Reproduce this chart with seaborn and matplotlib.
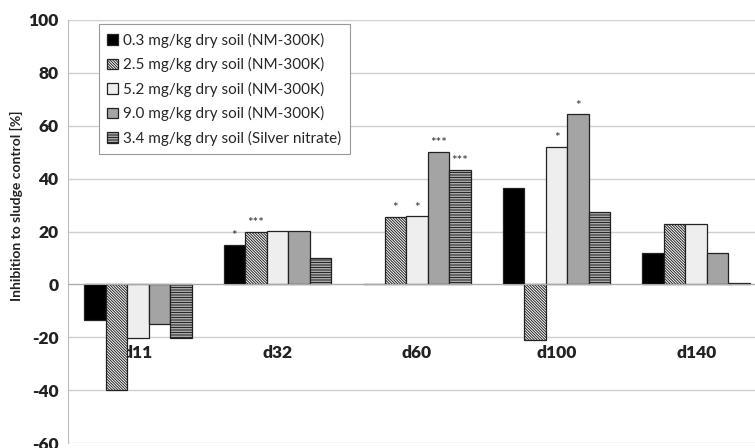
import matplotlib
matplotlib.use("Agg")
import matplotlib.pyplot as plt
import seaborn as sns
import pandas as pd

sns.set_style("white")
plt.rcParams['font.family'] = ['Lato', 'DejaVu Sans']
plt.rcParams['hatch.linewidth'] = 0.7
plt.rcParams['axes.unicode_minus'] = False

# data
days = ['d11', 'd32', 'd60', 'd100', 'd140']
series = ['0.3 mg/kg dry soil (NM-300K)',
          '2.5 mg/kg dry soil (NM-300K)',
          '5.2 mg/kg dry soil (NM-300K)',
          '9.0 mg/kg dry soil (NM-300K)',
          '3.4 mg/kg dry soil (Silver nitrate)']
v03 = [-13.3, 15.0, 0.0, 36.3, 11.8]
v25 = [-39.8, 19.9, 25.5, -20.9, 22.7]
v52 = [-20.1, 20.3, 25.7, 51.9, 22.7]
v90 = [-14.9, 20.3, 50.0, 64.3, 11.8]
vag = [-20.1, 10.1, 43.4, 27.2, 0.5]
stars = [
    ['', '*', '', '', ''],
    ['', '***', '*', '', ''],
    ['', '', '*', '*', ''],
    ['', '', '***', '*', ''],
    ['', '', '***', '', ''],
]

rows = []
for s, vals in zip(series, [v03, v25, v52, v90, vag]):
    for d, v in zip(days, vals):
        rows.append({'day': d, 'dose': s, 'value': v})
df = pd.DataFrame(rows)

fig = plt.figure(figsize=(7.55, 4.48), dpi=100)
ax = fig.add_axes([68 / 755, 1 - 443 / 448, 698 / 755, 423 / 448])

sns.barplot(data=df, x='day', y='value', hue='dose', order=days, hue_order=series,
            errorbar=None, width=0.77, legend=False, ax=ax)

styles = [
    dict(facecolor='black', hatch=''),
    dict(facecolor='white', hatch='\\' * 12),
    dict(facecolor='#eeeeee', hatch=''),
    dict(facecolor='#a4a4a4', hatch=''),
    dict(facecolor='#e8e8e8', hatch='-' * 10),
]
for cont, st in zip(ax.containers, styles):
    for p in cont.patches:
        p.set_facecolor(st['facecolor'])
        p.set_hatch(st['hatch'])
        p.set_edgecolor('#222222')
        p.set_linewidth(0.9)

# significance marks
for cont, marks in zip(ax.containers, stars):
    for p, m in zip(cont.patches, marks):
        if m:
            ax.annotate(m, (p.get_x() + p.get_width() / 2, p.get_y() + p.get_height()),
                        xytext=(0, 2), textcoords='offset points',
                        ha='center', va='bottom', fontsize=9.5, color='#333333')

ax.set_ylim(-60, 100)
ax.set_yticks(range(-60, 101, 20))
ax.set_xlim(-0.5, 4.5)
ax.yaxis.grid(True, color='#d0d0d0', linewidth=1)
ax.set_axisbelow(True)

for s in ['top', 'right']:
    ax.spines[s].set_visible(False)
ax.spines['left'].set_color('#bbbbbb')
ax.spines['bottom'].set_position(('data', 0))
ax.spines['bottom'].set_color('#aaaaaa')

ax.set_xticks(range(len(days)))
ax.set_xticklabels(days, fontweight='heavy', fontsize=12.5, color='#222222')
ax.set_xticks([0.5, 1.5, 2.5, 3.5], minor=True)
ax.tick_params(axis='x', which='major', length=0, pad=44)
ax.tick_params(axis='x', which='minor', length=5, color='#bbbbbb', direction='out')
ax.tick_params(axis='y', length=4, color='#bbbbbb', labelsize=12.5, pad=3)
for t in ax.get_yticklabels():
    t.set_fontweight('heavy')
    t.set_color('#222222')

ax.set_xlabel('')
ax.set_ylabel('Inhibition to sludge control [%]', fontsize=10, fontweight='bold',
              color='#222222')
ax.yaxis.set_label_coords(-0.0745, 0.56)
ax.yaxis.label.set_va('center')

leg = ax.legend(ax.containers, series, loc='upper left', bbox_to_anchor=(0.044, 0.99),
                borderaxespad=0, fancybox=False, fontsize=11, handlelength=0.7,
                handleheight=0.7, handletextpad=0.35, labelspacing=0.62,
                borderpad=0.55, framealpha=1)
leg.get_frame().set_edgecolor('#999999')
leg.get_frame().set_linewidth(0.8)

fig.savefig('out.png', dpi=100)
